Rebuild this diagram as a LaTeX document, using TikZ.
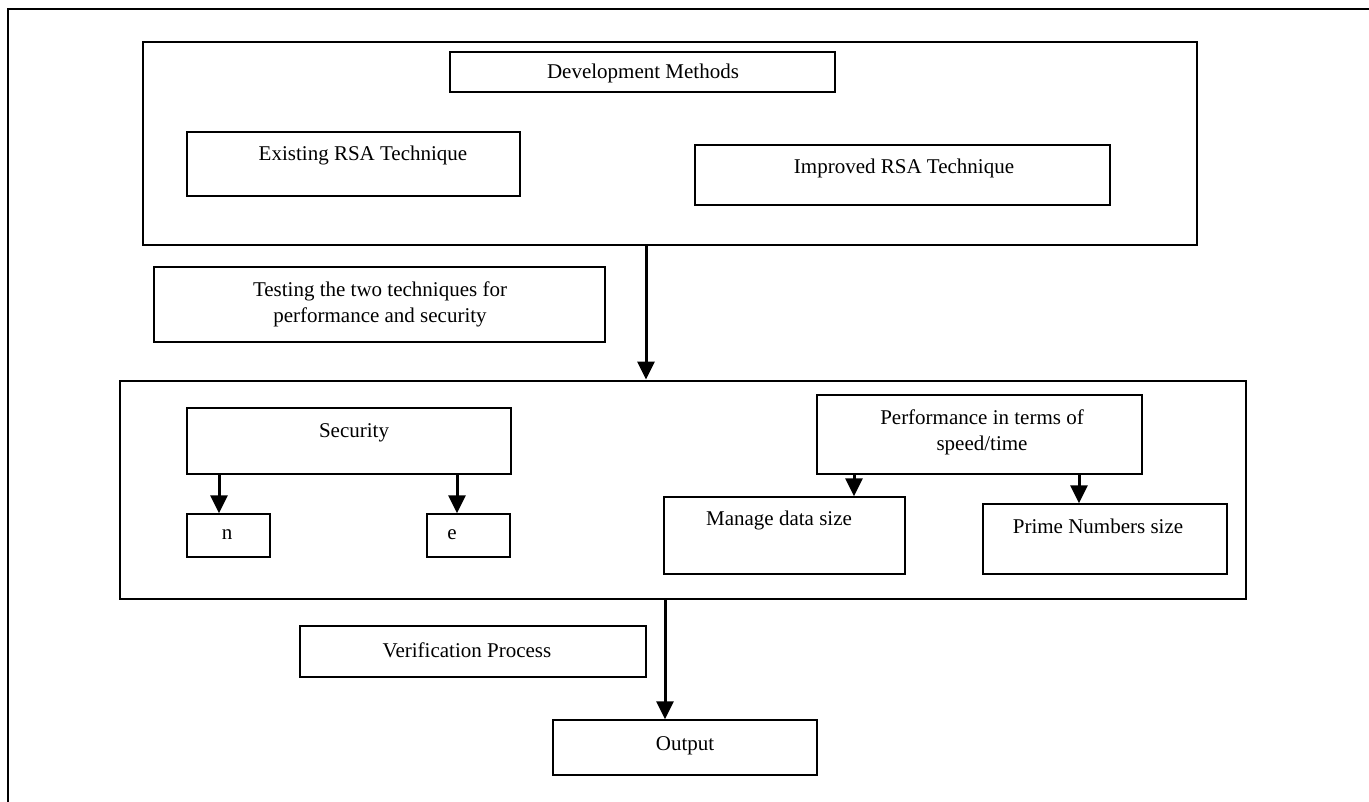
\documentclass[tikz,border=0pt]{standalone}
\usepackage{fontspec}
\setmainfont{Liberation Serif}
\usetikzlibrary{arrows.meta}
\begin{document}
\begin{tikzpicture}[x=1pt,y=-1pt,
  thinbox/.style={draw, line width=1.4pt, inner sep=0pt},
  bigbox/.style={draw, line width=2.8pt, inner sep=0pt},
  lbl/.style={font=\fontsize{21}{26}\selectfont, align=center, inner sep=0pt},
  arr/.style={line width=3pt, -{Triangle[length=18pt,width=17pt]}}]
\useasboundingbox (0,0) rectangle (1369,802);
% outer frame (cropped)
\draw[line width=2.8pt] (8,810) -- (8,9) -- (1380,9);
% top group
\node[bigbox, minimum width=1054pt, minimum height=203pt] (grp1) at (670,143.5) {};
\node[thinbox, minimum width=385pt, minimum height=40pt] (dev) at (642.5,72) {};
\node[lbl] (devt) at (643,73) {Development Methods};
\node[thinbox, minimum width=333pt, minimum height=64pt] (exist) at (353.5,164) {};
\node[lbl] (existt) at (363,155) {Existing RSA Technique};
\node[thinbox, minimum width=415pt, minimum height=60pt] (impr) at (902.5,175) {};
\node[lbl] (imprt) at (904,168) {Improved RSA Technique};
% testing
\node[thinbox, minimum width=451pt, minimum height=75pt] (test) at (379.5,304.5) {};
\node[lbl] (testt) at (380,304) {Testing the two techniques for\\performance and security};
% second group
\node[bigbox, minimum width=1126pt, minimum height=218pt] (grp2) at (683,490) {};
\node[thinbox, minimum width=324pt, minimum height=66pt] (sec) at (349,441) {};
\node[lbl] (sect) at (354,433) {Security};
\node[thinbox, minimum width=83pt, minimum height=43pt] (nbox) at (228.5,535.5) {};
\node[lbl] (nt) at (227,535) {n};
\node[thinbox, minimum width=83pt, minimum height=43pt] (ebox) at (468.5,535.5) {};
\node[lbl] (et) at (452,535) {e};
\node[thinbox, minimum width=325pt, minimum height=79pt] (perf) at (979.5,434.5) {};
\node[lbl] (perft) at (982,432) {Performance in terms of\\speed/time};
\node[thinbox, minimum width=241pt, minimum height=77pt] (manage) at (784.5,535.5) {};
\node[lbl] (managet) at (779,520) {Manage data size};
\node[thinbox, minimum width=244pt, minimum height=70pt] (prime) at (1105,539) {};
\node[lbl] (primet) at (1098,526) {Prime Numbers size};
% bottom
\node[thinbox, minimum width=346pt, minimum height=51pt] (verif) at (473,651.5) {};
\node[lbl] (veriftt) at (467,650) {Verification Process};
\node[thinbox, minimum width=264pt, minimum height=55pt] (out) at (685,747.5) {};
\node[lbl] (outt) at (685,746) {Output};
% arrow x positions
\coordinate (xa) at (646,0);
\coordinate (xn) at (219,0);
\coordinate (xe) at (457,0);
\coordinate (xm) at (854,0);
\coordinate (xp) at (1079,0);
\coordinate (xo) at (665,0);
\draw[arr] (grp1.south -| xa) -- (grp2.north -| xa);
\draw[arr] (sec.south -| xn) -- (nbox.north -| xn);
\draw[arr] (sec.south -| xe) -- (ebox.north -| xe);
\draw[arr] (perf.south -| xm) -- (manage.north -| xm);
\draw[arr] (perf.south -| xp) -- (prime.north -| xp);
\draw[arr] (grp2.south -| xo) -- (out.north -| xo);
\end{tikzpicture}
\end{document}
